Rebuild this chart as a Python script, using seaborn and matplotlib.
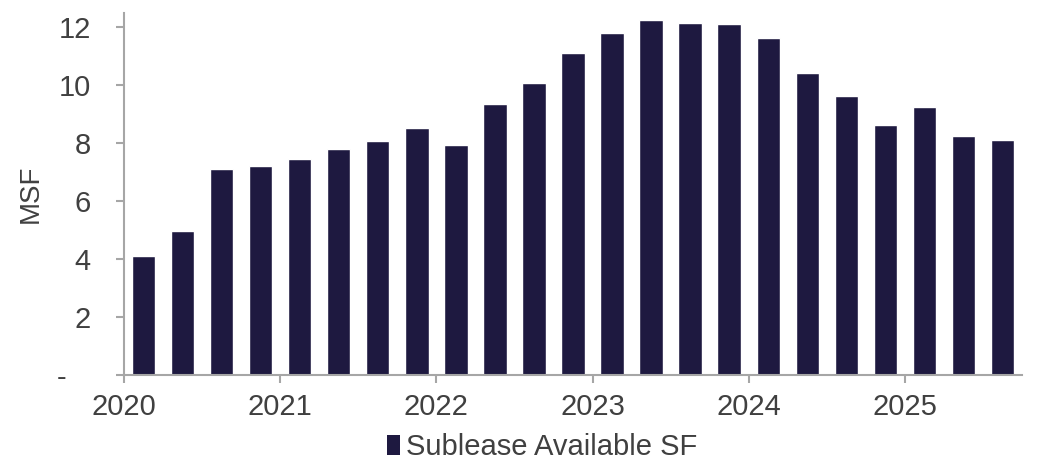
import matplotlib
matplotlib.use("Agg")
import matplotlib.pyplot as plt
import seaborn as sns
import pandas as pd
from matplotlib.patches import Patch

# Quarterly sublease availability, million square feet
quarters = [
    "2020 Q1", "2020 Q2", "2020 Q3", "2020 Q4",
    "2021 Q1", "2021 Q2", "2021 Q3", "2021 Q4",
    "2022 Q1", "2022 Q2", "2022 Q3", "2022 Q4",
    "2023 Q1", "2023 Q2", "2023 Q3", "2023 Q4",
    "2024 Q1", "2024 Q2", "2024 Q3", "2024 Q4",
    "2025 Q1", "2025 Q2", "2025 Q3",
]
sublease_msf = [
    4.1, 4.95, 7.09, 7.2,
    7.44, 7.78, 8.07, 8.53,
    7.93, 9.34, 10.08, 11.09,
    11.8, 12.24, 12.13, 12.1,
    11.61, 10.4, 9.62, 8.62,
    9.23, 8.25, 8.09,
]
year_labels = ["2020", "2021", "2022", "2023", "2024", "2025"]
y_ticks = [0, 2, 4, 6, 8, 10, 12]
y_tick_labels = ["-   ", "2", "4", "6", "8", "10", "12"]

bar_color = "#1e1940"
text_color = "#404040"
axis_color = "#a6a6a6"

sns.set_theme(style="white")
plt.rcParams["font.family"] = ["Liberation Sans", "DejaVu Sans"]
fsize = 21

df = pd.DataFrame({"quarter": quarters, "msf": sublease_msf})

fig = plt.figure(figsize=(10.37, 4.65), dpi=100)
ax = fig.add_axes([124 / 1037, 1 - 375 / 465, (1022 - 124) / 1037, (375 - 13) / 465])

sns.barplot(data=df, x="quarter", y="msf", color=bar_color, width=0.6,
            saturation=1, ax=ax)

ax.set_xlim(-0.5, len(quarters) - 0.5)
ax.set_ylim(0, 12.48)

# year ticks fall on the boundary before each year's first quarter
ax.set_xticks([-0.5 + 4 * i for i in range(len(year_labels))])
ax.set_xticklabels(year_labels)
ax.set_yticks(y_ticks)
ax.set_yticklabels(y_tick_labels)

ax.set_xlabel("")
ax.set_ylabel("MSF", fontsize=fsize - 1, color=text_color, labelpad=9)

for side in ("top", "right"):
    ax.spines[side].set_visible(False)
for side in ("left", "bottom"):
    ax.spines[side].set_color(axis_color)
    ax.spines[side].set_linewidth(1.5)

ax.tick_params(axis="both", which="major", length=6, width=1.5,
               color=axis_color, labelsize=fsize, labelcolor=text_color,
               direction="out", left=True, bottom=True)
ax.tick_params(axis="x", pad=7)
ax.tick_params(axis="y", pad=18)

handle = Patch(facecolor=bar_color, edgecolor="none", label="Sublease Available SF")
fig.legend(handles=[handle], loc="center", bbox_to_anchor=(542 / 1037, 1 - 447 / 465),
           frameon=False, fontsize=fsize, handlelength=0.45, handleheight=0.7,
           handletextpad=0.2, labelcolor=text_color)

fig.savefig("out.png", dpi=100)
